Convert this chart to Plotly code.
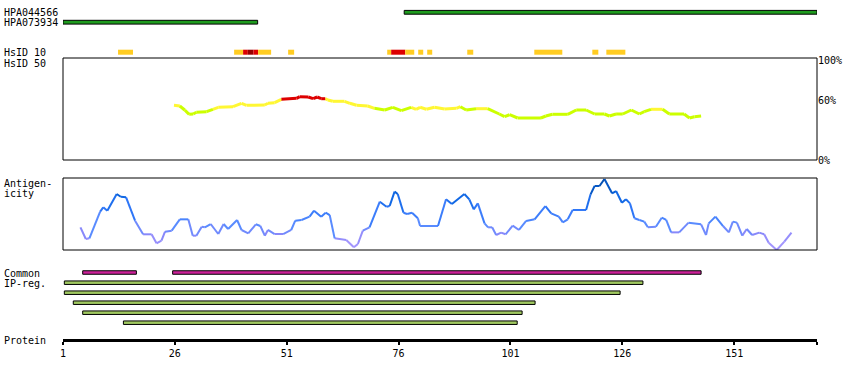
import plotly.graph_objects as go

W, H = 850, 380
MONO = "DejaVu Sans Mono"

# ---------------- data ----------------
ruler_ticks = [1, 26, 51, 76, 101, 126, 151]
ruler_end = 169.5

antibody_names = ["HPA044566", "HPA073934"]
antibody_start = [77.25, 1.0]
antibody_end = [169.5, 44.5]

# HsID 10 similarity segments (residue start, residue end, class)
hsid10_start = [13.3, 39.24, 41.25, 42.3, 43.55, 44.6, 51.31, 73.45, 74.34, 77.48,
                80.38, 82.39, 91.34, 106.32, 119.29, 122.42]
hsid10_end = [16.65, 41.25, 42.3, 43.55, 44.6, 47.51, 52.65, 74.34, 77.48, 79.49,
              81.5, 83.51, 92.68, 112.58, 120.63, 126.67]
hsid10_class = ["mid", "mid", "high", "top", "high", "mid", "mid", "mid", "high", "mid",
                "mid", "mid", "mid", "mid", "mid", "mid"]

# HsID 50 similarity (%)
hsid50_res = [25.8, 27.1, 28.2, 29.2, 30.1, 30.8, 33.1, 34.5, 35.7, 39.0,
              40.9, 42.0, 46.1, 46.8, 48.3, 49.8, 53.2, 53.9, 55.8, 56.9,
              57.8, 58.7, 59.6, 60.2, 61.3, 63.9, 65.1, 66.6, 69.1, 70.6,
              72.9, 74.7, 76.6, 78.8, 79.9, 80.8, 82.2, 84.0, 86.3, 88.9,
              89.8, 91.1, 93.3, 95.9, 98.5, 99.7, 100.8, 102.6, 107.8, 108.9,
              110.4, 113.8, 115.7, 117.9, 119.8, 122.0, 123.1, 124.6, 126.1, 128.0,
              129.8, 130.9, 132.4, 135.0, 136.5, 139.8, 141.0, 142.1, 143.6]
hsid50_pct = [54.7, 54.0, 50.0, 45.7, 46.0, 47.7, 48.3, 50.7, 52.7, 53.3,
              56.7, 54.7, 55.0, 56.7, 57.3, 60.7, 61.7, 63.3, 63.0, 61.3,
              63.0, 61.3, 61.3, 60.0, 58.7, 58.7, 56.7, 54.7, 54.0, 51.7,
              50.0, 52.7, 49.3, 52.7, 50.7, 52.7, 50.7, 52.7, 51.0, 51.7,
              53.3, 50.0, 51.3, 51.3, 46.0, 43.3, 45.3, 42.0, 42.0, 44.0,
              45.7, 45.7, 50.0, 50.0, 46.0, 46.0, 44.0, 46.0, 46.0, 50.0,
              46.0, 48.3, 50.7, 50.7, 46.0, 46.0, 42.0, 43.3, 44.0]
hsid50_threshold = 60
hsid50_ticks = [0, 60, 100]
hsid50_ticktext = ["0%", "60%", "100%"]

# Antigenicity (relative 0..1)
antigen_res = [4.9, 6.1, 6.9, 9.3, 10.0, 10.9, 13.0, 13.9, 15.1, 17.1,
               18.9, 20.8, 21.9, 23.0, 23.8, 25.3, 27.1, 29.0, 30.0, 30.8,
               32.0, 32.7, 34.0, 35.7, 36.9, 37.9, 39.9, 40.9, 42.4, 44.1,
               45.1, 46.1, 46.8, 48.3, 50.2, 52.0, 52.9, 54.3, 56.1, 57.1,
               58.7, 59.7, 60.6, 61.7, 64.3, 66.0, 66.9, 68.0, 69.5, 71.8,
               73.3, 74.0, 75.1, 75.8, 77.1, 77.9, 79.0, 80.3, 80.8, 84.8,
               86.6, 87.9, 90.7, 91.8, 92.8, 93.7, 95.2, 96.0, 96.9, 97.8,
               98.9, 99.9, 101.5, 102.9, 104.5, 106.4, 108.8, 110.1, 111.8, 112.7,
               113.8, 114.9, 117.9, 118.9, 119.8, 120.9, 122.0, 123.7, 124.6, 125.9,
               126.8, 127.7, 128.7, 129.8, 130.9, 131.7, 133.5, 134.8, 135.8, 136.9,
               138.7, 140.8, 143.6, 144.7, 145.3, 146.8, 148.5, 149.8, 150.7, 151.6,
               152.8, 153.8, 155.0, 156.6, 157.7, 158.7, 160.5, 162.2, 163.8]
antigen_val = [0.315, 0.153, 0.162, 0.532, 0.593, 0.546, 0.778, 0.74, 0.732, 0.407,
               0.218, 0.218, 0.093, 0.129, 0.254, 0.268, 0.426, 0.426, 0.199, 0.199,
               0.324, 0.315, 0.361, 0.222, 0.361, 0.292, 0.417, 0.278, 0.232, 0.357,
               0.333, 0.199, 0.278, 0.222, 0.222, 0.278, 0.407, 0.417, 0.463, 0.546,
               0.463, 0.518, 0.486, 0.162, 0.139, 0.037, 0.083, 0.268, 0.315, 0.671,
               0.601, 0.611, 0.81, 0.778, 0.518, 0.5, 0.518, 0.44, 0.333, 0.333,
               0.704, 0.639, 0.778, 0.704, 0.565, 0.648, 0.370, 0.315, 0.315, 0.208,
               0.241, 0.218, 0.338, 0.278, 0.403, 0.426, 0.611, 0.509, 0.463, 0.384,
               0.426, 0.556, 0.556, 0.773, 0.889, 0.889, 0.986, 0.787, 0.819, 0.657,
               0.704, 0.648, 0.44, 0.417, 0.394, 0.315, 0.324, 0.449, 0.417, 0.245,
               0.245, 0.380, 0.357, 0.208, 0.370, 0.463, 0.333, 0.245, 0.394, 0.380,
               0.199, 0.292, 0.208, 0.241, 0.218, 0.102, 0.0, 0.116, 0.241]

# Common IP regions and IP regions
common_start = [5.4, 25.5]
common_end = [17.4, 143.6]
ipreg_start = [1.3, 1.3, 3.3, 5.4, 14.5]
ipreg_end = [130.6, 125.5, 106.5, 103.6, 102.5]

# ---------------- layout constants (px rows) ----------------
ROW_AB = [12.3, 22.2]
ROW_HS10 = 52.2
ROW_COMMON = 272.5
ROW_IP = [282.7, 292.7, 302.7, 312.7, 322.7]
AXIS_Y = 339.5
HS50_TOP, HS50_BOT = 58, 160
AG_TOP, AG_BOT = 178, 250

fig = go.Figure()

# Antibody bars
fig.add_trace(go.Bar(orientation="h", y=ROW_AB,
                     base=antibody_start,
                     x=[e - s for s, e in zip(antibody_start, antibody_end)],
                     width=3.8, marker=dict(color="#1E9B1E", line=dict(color="black", width=1)),
                     xaxis="x", yaxis="y", hoverinfo="skip"))

# HsID 10
hs10_colors = {"mid": "#FFCC22", "high": "#DD0000", "top": "#990000"}
fig.add_trace(go.Bar(orientation="h", y=[ROW_HS10] * len(hsid10_start),
                     base=hsid10_start,
                     x=[e - s for s, e in zip(hsid10_start, hsid10_end)],
                     width=5, marker=dict(color=[hs10_colors[c] for c in hsid10_class], line=dict(width=0)),
                     xaxis="x", yaxis="y", hoverinfo="skip"))

# Common IP region
fig.add_trace(go.Bar(orientation="h", y=[ROW_COMMON] * len(common_start),
                     base=common_start,
                     x=[e - s for s, e in zip(common_start, common_end)],
                     width=3.5, marker=dict(color="#CC2299", line=dict(color="black", width=1)),
                     xaxis="x", yaxis="y", hoverinfo="skip"))
# IP regions
fig.add_trace(go.Bar(orientation="h", y=ROW_IP,
                     base=ipreg_start,
                     x=[e - s for s, e in zip(ipreg_start, ipreg_end)],
                     width=3.5, marker=dict(color="#A0C860", line=dict(color="black", width=1)),
                     xaxis="x", yaxis="y", hoverinfo="skip"))


def add_segments(xs, ys, color_of, yaxis, width):
    groups = {}
    for i in range(len(xs) - 1):
        col = color_of(ys[i], ys[i + 1])
        g = groups.setdefault(col, ([], []))
        g[0].extend([xs[i], xs[i + 1], None])
        g[1].extend([ys[i], ys[i + 1], None])
    for col, (gx, gy) in groups.items():
        fig.add_trace(go.Scatter(x=gx, y=gy, mode="lines", xaxis="x", yaxis=yaxis,
                                 line=dict(color=col, width=width), hoverinfo="skip",
                                 connectgaps=False))


def hs50_color(a, b):
    m = min(a, b)
    if m > 60:
        return "#DD0000"
    if m < 50.5:
        return "#CCFF00"
    return "#FFF733"


add_segments(hsid50_res, hsid50_pct, hs50_color, "y2", 3)

ag_stops = [(0.0, (175, 155, 255)), (0.22, (135, 135, 250)), (0.35, (90, 140, 255)),
            (0.55, (50, 120, 250)), (0.75, (10, 100, 225)), (1.0, (0, 70, 160))]


def ag_color(a, b):
    v = round((a + b) / 2 * 14) / 14
    for (v0, c0), (v1, c1) in zip(ag_stops, ag_stops[1:]):
        if v <= v1:
            t = (v - v0) / (v1 - v0)
            c = tuple(round(p + (q - p) * t) for p, q in zip(c0, c1))
            return "rgb(%d,%d,%d)" % c
    return "rgb(%d,%d,%d)" % ag_stops[-1][1]


add_segments(antigen_res, antigen_val, ag_color, "y3", 2)

# panel boxes and threshold
shapes = [
    dict(type="rect", xref="x domain", yref="y2 domain", x0=0, x1=1, y0=0, y1=1,
         line=dict(color="black", width=1), layer="above"),
    dict(type="rect", xref="x domain", yref="y3 domain", x0=0, x1=1, y0=0, y1=1,
         line=dict(color="black", width=1), layer="above"),
    dict(type="line", xref="x domain", yref="y2", x0=0, x1=1,
         y0=hsid50_threshold, y1=hsid50_threshold, line=dict(color="black", width=1), layer="below"),
]

labels = [("HPA044566", 12.7), ("HPA073934", 22.8), ("HsID 10", 52), ("HsID 50", 63),
          ("Antigen-", 183.5), ("icity", 193.3), ("Common", 273), ("IP-reg.", 283.5),
          ("Protein", 340)]
annotations = [dict(text=t, xref="paper", yref="y", x=2 / W, y=yy, xanchor="left", yanchor="middle",
                    showarrow=False, font=dict(family=MONO, size=10, color="black"))
               for t, yy in labels]

fig.update_layout(
    width=W, height=H, margin=dict(l=0, r=0, t=0, b=0, pad=0, autoexpand=False),
    paper_bgcolor="white", plot_bgcolor="white", showlegend=False, barmode="overlay",
    shapes=shapes, annotations=annotations, hovermode=False,
    xaxis=dict(domain=[63 / W, 817 / W], range=[1, ruler_end], anchor="free",
               position=1 - AXIS_Y / H, showgrid=False, zeroline=False, automargin=False,
               showline=True, linecolor="black", linewidth=3,
               ticks="outside", ticklen=3, tickwidth=2, tickcolor="black",
               tickvals=ruler_ticks + [ruler_end],
               ticktext=[str(t) for t in ruler_ticks] + [""],
               tickfont=dict(family=MONO, size=10, color="black"), fixedrange=True),
    yaxis=dict(domain=[0, 1], range=[H, 0], visible=False, anchor="x", fixedrange=True,
               automargin=False),
    yaxis2=dict(domain=[1 - HS50_BOT / H, 1 - HS50_TOP / H], range=[0, HS50_BOT - HS50_TOP],
                anchor="x", side="right", showgrid=False, zeroline=False, showline=False,
                automargin=False,
                tickvals=hsid50_ticks, ticktext=hsid50_ticktext, ticks="",
                tickfont=dict(family=MONO, size=10, color="black"), fixedrange=True),
    yaxis3=dict(domain=[1 - AG_BOT / H, 1 - AG_TOP / H], range=[0, 1], visible=False,
                anchor="x", fixedrange=True, automargin=False),
)

fig.write_html("out.html", config={"displayModeBar": False, "staticPlot": True},
               post_script="document.body.style.margin='0';document.body.style.overflow='hidden';")
